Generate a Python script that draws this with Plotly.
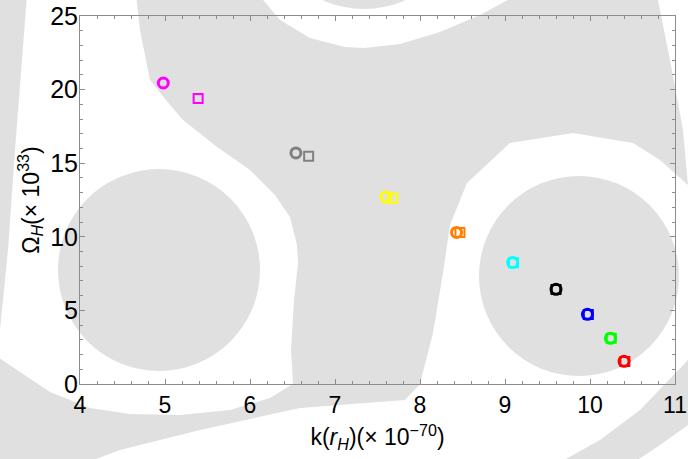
import plotly.graph_objects as go

# ---- data ----
colors = ["#ff00ff", "#808080", "#ffff00", "#ff8000", "#00ffff",
          "#000000", "#0000ff", "#00ff00", "#ff0000"]
circle_x = [4.98, 6.54, 7.60, 8.43, 9.09, 9.60, 9.97, 10.24, 10.40]
circle_y = [20.45, 15.70, 12.70, 10.30, 8.26, 6.43, 4.73, 3.10, 1.54]
square_x = [5.39, 6.69, 7.68, 8.47, 9.10, 9.60, 9.98, 10.25, 10.41]
square_y = [19.40, 15.48, 12.63, 10.30, 8.24, 6.42, 4.72, 3.10, 1.53]
x_ticks = [4, 5, 6, 7, 8, 9, 10, 11]
y_ticks = [0, 5, 10, 15, 20, 25]

W, H = 688, 459
L, R, T, B = 80, 13, 16, 75
PW, PH = W - L - R, H - T - B


def px(x):
    return (x - L) / PW


def py(y):
    return (H - B - y) / PH


def path(pts):
    s = "M " + " L ".join(f"{px(a):.4f},{py(b):.4f}" for a, b in pts) + " Z"
    return s


GRAY = "#e0e0e0"
shapes = []


def poly(pts, color):
    shapes.append(dict(type="path", xref="paper", yref="paper", path=path(pts),
                       fillcolor=color, line=dict(width=0), layer="below"))


def circ(cx, cy, r, color):
    shapes.append(dict(type="circle", xref="paper", yref="paper",
                       x0=px(cx - r), x1=px(cx + r), y0=py(cy + r), y1=py(cy - r),
                       fillcolor=color, line=dict(width=0), layer="below"))


# central body of the watermark
body = [(136, -5), (657, -5), (670, 60), (683, 130), (688, 185),
        (660, 160), (633, 143), (573, 133), (510, 143), (467, 183), (450, 225),
        (443, 273), (433, 333), (420, 384), (405, 400),
        (300, 408), (293, 384), (291, 350), (294, 300), (298, 263),
        (297, 245), (290, 217), (275, 195), (250, 170), (217, 147), (183, 120),
        (170, 105), (150, 80), (140, 30)]
poly(body, GRAY)
# white crescent at top
poly([(259, -5), (280, 20), (310, 38), (345, 47), (364, 48), (400, 44), (440, 32),
      (480, 15), (517, -5)], "white")
circ(364, -91, 100, GRAY)
# left strip
poly([(-5, -5), (27, -5), (22, 60), (15, 150), (8, 250), (0, 330), (-5, 335)], GRAY)
# lower tail wrapping under the left disk
poly([(293, 384), (270, 398), (230, 410), (180, 415), (130, 414), (90, 408),
      (50, 392), (20, 372), (-5, 355), (-5, 465), (80, 465), (120, 450),
      (200, 430), (300, 408), (413, 384)], GRAY)
# bottom-right band
poly([(555, 465), (600, 440), (640, 410), (688, 360), (695, 355), (695, 420),
      (660, 445), (630, 465)], GRAY)
# disks
circ(159, 270, 101, GRAY)
circ(579, 276, 100, GRAY)

fig = go.Figure()
fig.add_trace(go.Scatter(x=circle_x, y=circle_y, mode="markers",
                         marker=dict(symbol="circle-open", size=10, color=colors,
                                     line=dict(width=3, color=colors)),
                         showlegend=False))
fig.add_trace(go.Scatter(x=square_x, y=square_y, mode="markers",
                         marker=dict(symbol="square-open", size=9, color=colors,
                                     line=dict(width=2, color=colors)),
                         showlegend=False))

axis_common = dict(showline=True, linecolor="#8c8c8c", linewidth=1, mirror="ticks",
                   ticks="inside", ticklen=5, tickcolor="#8c8c8c", showgrid=False,
                   zeroline=False, automargin=False)
fig.update_xaxes(range=[4, 11], tickvals=x_ticks, ticktext=[str(v) for v in x_ticks],
                 minor=dict(dtick=0.2, ticks="inside", ticklen=3, tickcolor="#8c8c8c"),
                 tickfont=dict(size=23, color="black"),
                 title=dict(text="k(<i>r</i><sub><i>H</i></sub>)(× 10<sup>−70</sup>)",
                            font=dict(size=23, color="black"), standoff=12),
                 **axis_common)
fig.update_yaxes(range=[0, 25], tickvals=y_ticks, ticktext=[str(v) for v in y_ticks],
                 minor=dict(dtick=1, ticks="inside", ticklen=3, tickcolor="#8c8c8c"),
                 tickfont=dict(size=25, color="black"), ticklabelstandoff=-4,
                 title=dict(text="Ω<sub><i>H</i></sub>(× 10<sup>33</sup>)",
                            font=dict(size=23, color="black"), standoff=4),
                 **axis_common)
fig.update_layout(width=W, height=H, margin=dict(l=L, r=R, t=T, b=B),
                  paper_bgcolor="white", plot_bgcolor="rgba(0,0,0,0)",
                  font=dict(family="Liberation Sans, Arial, sans-serif"),
                  shapes=shapes)
fig.write_html("out.html", config={"displayModeBar": False},
               post_script="document.body.style.margin='0';"
                           "document.body.style.overflow='hidden';")
